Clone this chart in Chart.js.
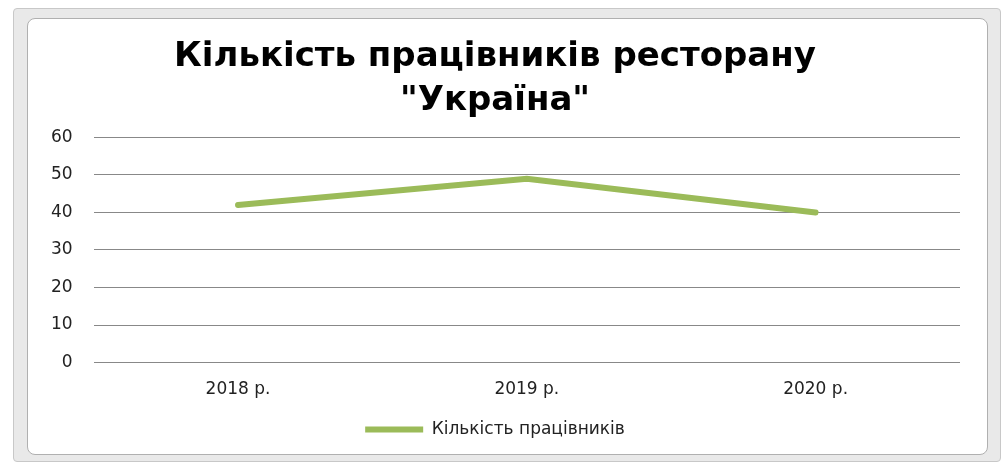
<!DOCTYPE html>
<html>
<head>
<meta charset="utf-8">
<script src="https://cdn.jsdelivr.net/npm/chart.js@4"></script>
<style>
  body { margin: 0; background: #fff; width: 1005px; height: 466px; overflow: hidden; position: relative; }
  .frame { position: absolute; left: 13px; top: 8px; width: 986px; height: 452px; background: #e9e9e9; border: 1px solid #c8c8c8; border-radius: 4px; }
  .chart-box { position: absolute; left: 27px; top: 18px; width: 959px; height: 435px; background: #fff; border: 1px solid #b0b0b0; border-radius: 8px; }
  canvas { position: absolute; left: 0; top: 0; }
</style>
</head>
<body>
<div class="frame"></div>
<div class="chart-box">
  <canvas id="chart" width="959" height="435"></canvas>
</div>
<script>
const categories = ["2018 р.", "2019 р.", "2020 р."];
const workers = [42, 49, 40];
const seriesName = "Кількість працівників";
const titleLines = ["Кількість працівників ресторану", "\"Україна\""];
const yTicks = [0, 10, 20, 30, 40, 50, 60];

const tickFont = { family: "DejaVu Sans", size: 17 };

const ctx = document.getElementById("chart").getContext("2d");
new Chart(ctx, {
    type: "line",
    data: {
        labels: categories,
        datasets: [{
            label: seriesName,
            data: workers,
            borderColor: "#9bbb59",
            backgroundColor: "#9bbb59",
            borderWidth: 6,
            borderCapStyle: "round",
            pointRadius: 0,
            pointHoverRadius: 0,
            tension: 0,
        }],
    },
    options: {
        responsive: false,
        animation: false,
        layout: { padding: { left: 2, right: 27, top: 17, bottom: 6 } },
        plugins: {
            title: {
                display: true,
                text: titleLines,
                color: "#000",
                font: { family: "DejaVu Sans", size: 34, weight: "bold", lineHeight: 1.27 },
                padding: { top: 0, bottom: 15 },
            },
            legend: {
                position: "bottom",
                labels: {
                    usePointStyle: true,
                    pointStyle: "line",
                    pointStyleWidth: 58,
                    boxWidth: 58,
                    color: "#222",
                    font: { family: "DejaVu Sans", size: 17 },
                    padding: 12,
                },
            },
            tooltip: { enabled: false },
        },
        scales: {
            x: {
                offset: true,
                grid: { display: false },
                border: { display: false },
                ticks: { color: "#222", font: tickFont, padding: 9 },
            },
            y: {
                min: yTicks[0],
                max: yTicks[yTicks.length - 1],
                afterBuildTicks: (axis) => { axis.ticks = yTicks.map(v => ({ value: v })); },
                grid: { color: "#888", lineWidth: 1, drawTicks: false },
                border: { display: false },
                ticks: { color: "#222", font: tickFont, padding: 21 },
            },
        },
    },
});
</script>
</body>
</html>
